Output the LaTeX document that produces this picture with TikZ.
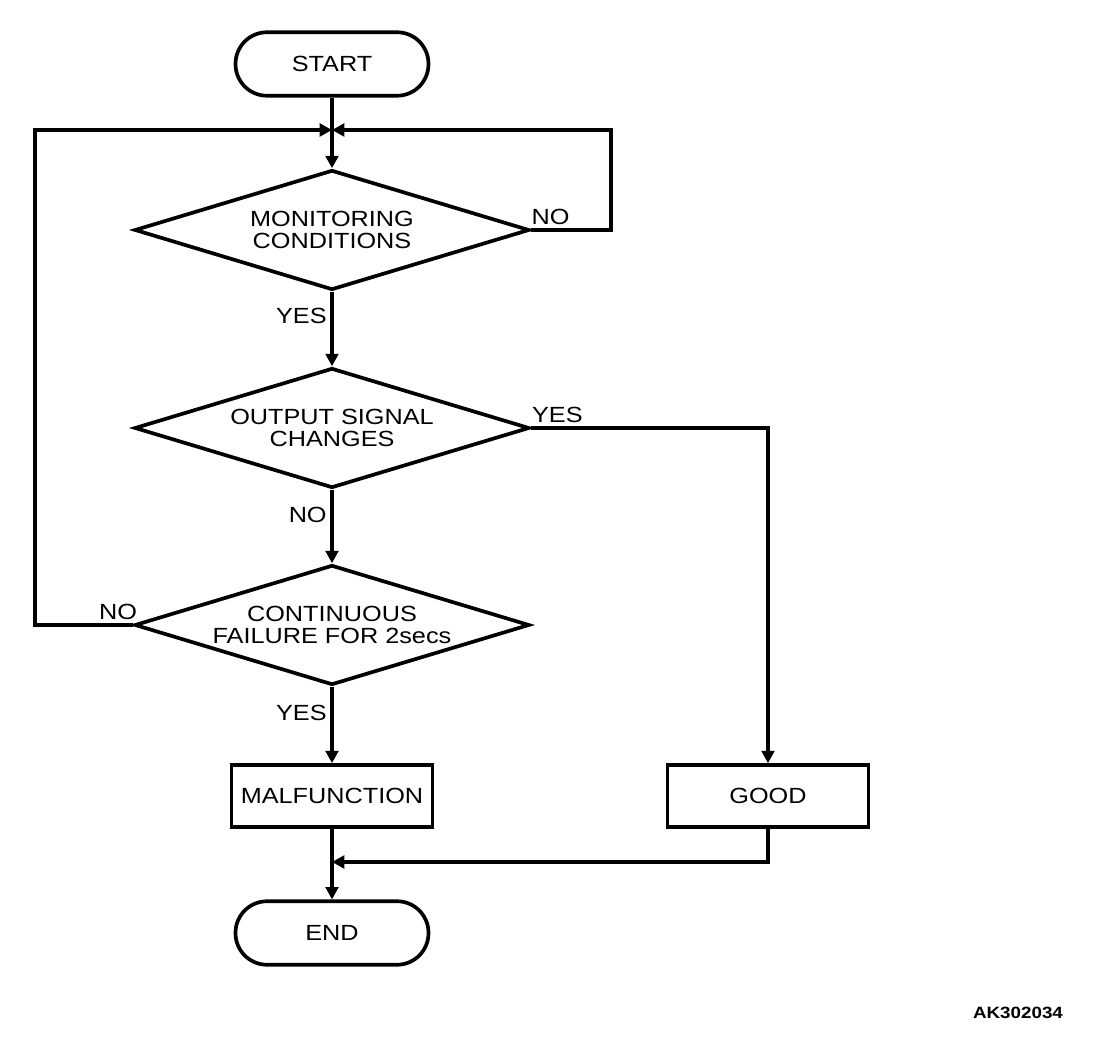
\documentclass[tikz,border=0pt]{standalone}
\usepackage{fontspec}
\setmainfont[FakeStretch=1.15]{Liberation Sans}
\usetikzlibrary{arrows.meta,shapes.geometric}

\begin{document}
\begin{tikzpicture}[x=0.02cm,y=-0.02cm,auto,font=\fontsize{12.5}{12.2}\selectfont]
\tikzstyle{decision} = [diamond, draw, line width=2.1pt, aspect=3.3,
inner sep=0pt, minimum width=7.9cm, minimum height=2.4cm, align=center]
\tikzstyle{block} = [rectangle, draw, line width=2.1pt,
minimum width=4.02cm, minimum height=1.24cm]
\tikzstyle{terminal} = [rectangle, draw, line width=2.1pt, rounded corners=0.63cm,
minimum width=3.86cm, minimum height=1.27cm]
\tikzstyle{line} = [draw, line width=2.1pt, -{Triangle[length=7pt,width=7.2pt]}];
\tikzstyle{lbl} = [inner sep=2pt]
\useasboundingbox (0,0) rectangle (1120,1050);
% nodes
\node [terminal] (start) at (332,64) {START};
\node [decision] (monitor) at (332,230) {MONITORING\\CONDITIONS};
\node [decision] (output) at (332,428) {OUTPUT SIGNAL\\CHANGES};
\node [decision] (contfail) at (332,625) {CONTINUOUS\\FAILURE FOR 2secs};
\node [block] (malf) at (332,796) {MALFUNCTION};
\node [block] (good) at (768,796) {GOOD};
\node [terminal] (stop) at (332,933) {END};
\coordinate (join) at (332,130);
\coordinate (merge) at (332,862);
\node [font=\fontsize{9.3}{10}\selectfont\bfseries] (code) at (1018,1013) {AK302034};
% connectors
\path[line] (start) -- (monitor.north);
\path[line] (monitor.east) -- node [lbl, above, pos=0.24] (nomon) {NO} ++(80,0) |- (join);
\path[line] (monitor.south) -- node [lbl, left, pos=0.33] (yesmon) {YES} (output.north);
\path[line] (output.east) -- node [lbl, above, pos=0.11] (yesout) {YES} (output.east -| good.north) -- (good.north);
\path[line] (output.south) -- node [lbl, left, pos=0.34] (noout) {NO} (contfail.north);
\path[line] (contfail.west) -- node [lbl, above, pos=0.15] (nofail) {NO} ++(-98,0) |- (join);
\path[line] (contfail.south) -- node [lbl, left, pos=0.34] (yesfail) {YES} (malf.north);
\path[line] (malf.south) -- (stop.north);
\path[line] (good.south) |- (merge);
\end{tikzpicture}
\end{document}
